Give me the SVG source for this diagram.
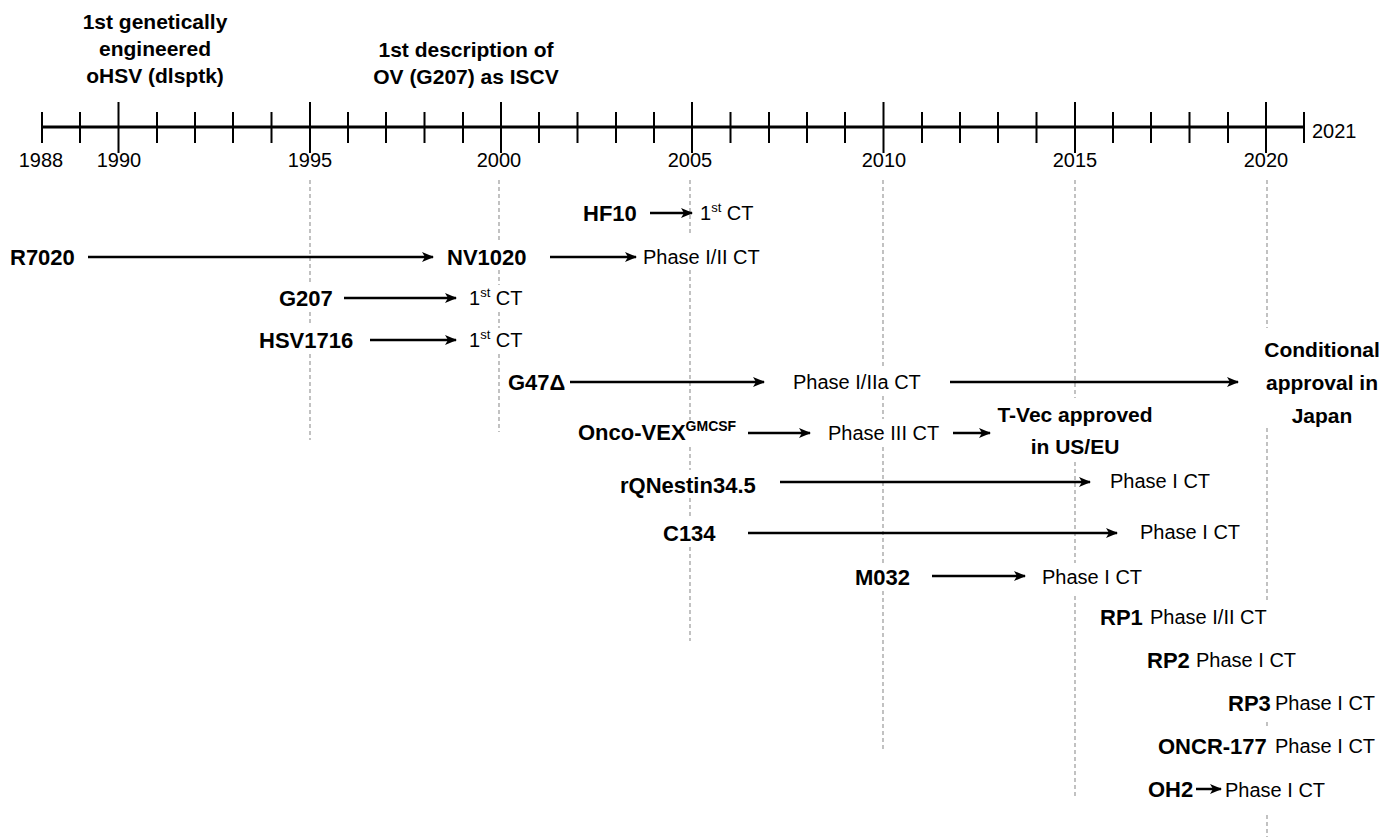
<svg xmlns="http://www.w3.org/2000/svg" width="1386" height="837" viewBox="0 0 1386 837">
<defs>
<marker id="ah" viewBox="0 0 12 10" refX="11" refY="5" markerWidth="12" markerHeight="10" markerUnits="userSpaceOnUse" orient="auto">
<path d="M0,0 L12,5 L0,10 L3,5 Z" fill="#000"/>
</marker>
<style>
text{font-family:"Liberation Sans",Arial,sans-serif;fill:#000}
.b{font-weight:bold;font-size:22px}
.n{font-weight:bold;font-size:21px;text-anchor:middle}
.r{font-size:20px}
.y{font-size:20px;text-anchor:middle}
.sup{font-size:13px}
.gs{font-size:14px}
.ax{stroke:#000;stroke-width:3;fill:none}
.tk{stroke:#000;stroke-width:2}
.dl{stroke:#999;stroke-width:1.2;stroke-dasharray:4,3;fill:none}
.ar{stroke:#000;stroke-width:2.5;fill:none;marker-end:url(#ah)}
</style>
</defs>
<rect width="1386" height="837" fill="#fff"/>
<g id="guides">
<path class="dl" d="M310,180V284M310,312V326M310,354V440"/>
<path class="dl" d="M499,180V242M499,270V285M499,312V328M499,354V432"/>
<path class="dl" d="M690,180V234M690,270V420M690,447V470M690,498V518M690,547V641"/>
<path class="dl" d="M883,180V368M883,396V419M883,447V563M883,591V752"/>
<path class="dl" d="M1075,180V398M1075,462V563M1075,596V798"/>
<path class="dl" d="M1267,180V328M1267,428V600M1267,722V728M1267,815V837"/>
</g>
<g id="axis">
<line class="ax" x1="42" y1="127" x2="1304" y2="127"/>
<path class="tk" d="M42,112V143M80,112V143M118.5,102V153M157,112V143M195,112V143M233,112V143M271.5,112V143M310,102V153M348,112V143M386,112V143M424.5,112V143M463,112V143M501,102V153M539,112V143M577.5,112V143M616,112V143M654,112V143M692,102V153M730.5,112V143M769,112V143M807,112V143M845,112V143M883.5,102V153M922,112V143M960,112V143M998,112V143M1036.5,112V143M1075,102V153M1113,112V143M1151,112V143M1189.5,112V143M1228,112V143M1266,102V153M1304,112V143"/>
<text class="y" x="41" y="167">1988</text>
<text class="y" x="119" y="167">1990</text>
<text class="y" x="310" y="167">1995</text>
<text class="y" x="499" y="167">2000</text>
<text class="y" x="690" y="167">2005</text>
<text class="y" x="884" y="167">2010</text>
<text class="y" x="1075" y="167">2015</text>
<text class="y" x="1266" y="167">2020</text>
<text class="r" x="1312" y="138">2021</text>
</g>
<g id="note-dlsptk">
<text class="n" x="155" y="29">1st genetically</text>
<text class="n" x="155" y="56">engineered</text>
<text class="n" x="155" y="83">oHSV (dlsptk)</text>
</g>
<g id="note-iscv">
<text class="n" x="466" y="57">1st description of</text>
<text class="n" x="466" y="84">OV (G207) as ISCV</text>
</g>
<g id="connectors">
<line class="ar" x1="650" y1="213" x2="692" y2="213"/>
<line class="ar" x1="88" y1="257" x2="433" y2="257"/>
<line class="ar" x1="550" y1="257" x2="636" y2="257"/>
<line class="ar" x1="344" y1="298" x2="456" y2="298"/>
<line class="ar" x1="370" y1="340" x2="456" y2="340"/>
<line class="ar" x1="570" y1="382" x2="764" y2="382"/>
<line class="ar" x1="950" y1="382" x2="1238" y2="382"/>
<line class="ar" x1="748" y1="433" x2="810" y2="433"/>
<line class="ar" x1="953" y1="433" x2="990" y2="433"/>
<line class="ar" x1="780" y1="482" x2="1090" y2="482"/>
<line class="ar" x1="748" y1="533" x2="1117" y2="533"/>
<line class="ar" x1="932" y1="576" x2="1025" y2="576"/>
<line class="ar" x1="1196" y1="789" x2="1221" y2="789"/>
</g>
<g id="hf10">
<text class="b" x="583" y="221">HF10</text>
<text class="r" x="700" y="220">1<tspan class="sup" dy="-8">st</tspan><tspan dy="8"> CT</tspan></text>
</g>
<g id="r7020"><text class="b" x="10" y="265">R7020</text></g>
<g id="nv1020">
<text class="b" x="447" y="265">NV1020</text>
<text class="r" x="643" y="264">Phase I/II CT</text>
</g>
<g id="g207">
<text class="b" x="279" y="306">G207</text>
<text class="r" x="469" y="305">1<tspan class="sup" dy="-8">st</tspan><tspan dy="8"> CT</tspan></text>
</g>
<g id="hsv1716">
<text class="b" x="259" y="348">HSV1716</text>
<text class="r" x="469" y="347">1<tspan class="sup" dy="-8">st</tspan><tspan dy="8"> CT</tspan></text>
</g>
<g id="g47">
<text class="b" x="508" y="390">G47Δ</text>
<text class="r" x="793" y="389">Phase I/IIa CT</text>
</g>
<g id="japan">
<text class="n" x="1322" y="357">Conditional</text>
<text class="n" x="1322" y="390">approval in</text>
<text class="n" x="1322" y="423">Japan</text>
</g>
<g id="oncovex">
<text class="b" x="578" y="440">Onco-VEX<tspan class="gs" dy="-9">GMCSF</tspan></text>
<text class="r" x="828" y="440">Phase III CT</text>
</g>
<g id="tvec">
<text class="n" x="1075" y="422">T-Vec approved</text>
<text class="n" x="1075" y="454">in US/EU</text>
</g>
<g id="rqnestin">
<text class="b" x="620" y="493">rQNestin34.5</text>
<text class="r" x="1110" y="488">Phase I CT</text>
</g>
<g id="c134">
<text class="b" x="663" y="541">C134</text>
<text class="r" x="1140" y="539">Phase I CT</text>
</g>
<g id="m032">
<text class="b" x="855" y="585">M032</text>
<text class="r" x="1042" y="584">Phase I CT</text>
</g>
<g id="rp1">
<text class="b" x="1100" y="625">RP1</text>
<text class="r" x="1150" y="624">Phase I/II CT</text>
</g>
<g id="rp2">
<text class="b" x="1147" y="668">RP2</text>
<text class="r" x="1196" y="667">Phase I CT</text>
</g>
<g id="rp3">
<text class="b" x="1228" y="711">RP3</text>
<text class="r" x="1275" y="710">Phase I CT</text>
</g>
<g id="oncr177">
<text class="b" x="1158" y="754">ONCR-177</text>
<text class="r" x="1275" y="753">Phase I CT</text>
</g>
<g id="oh2">
<text class="b" x="1148" y="797">OH2</text>
<text class="r" x="1225" y="797">Phase I CT</text>
</g>
</svg>
